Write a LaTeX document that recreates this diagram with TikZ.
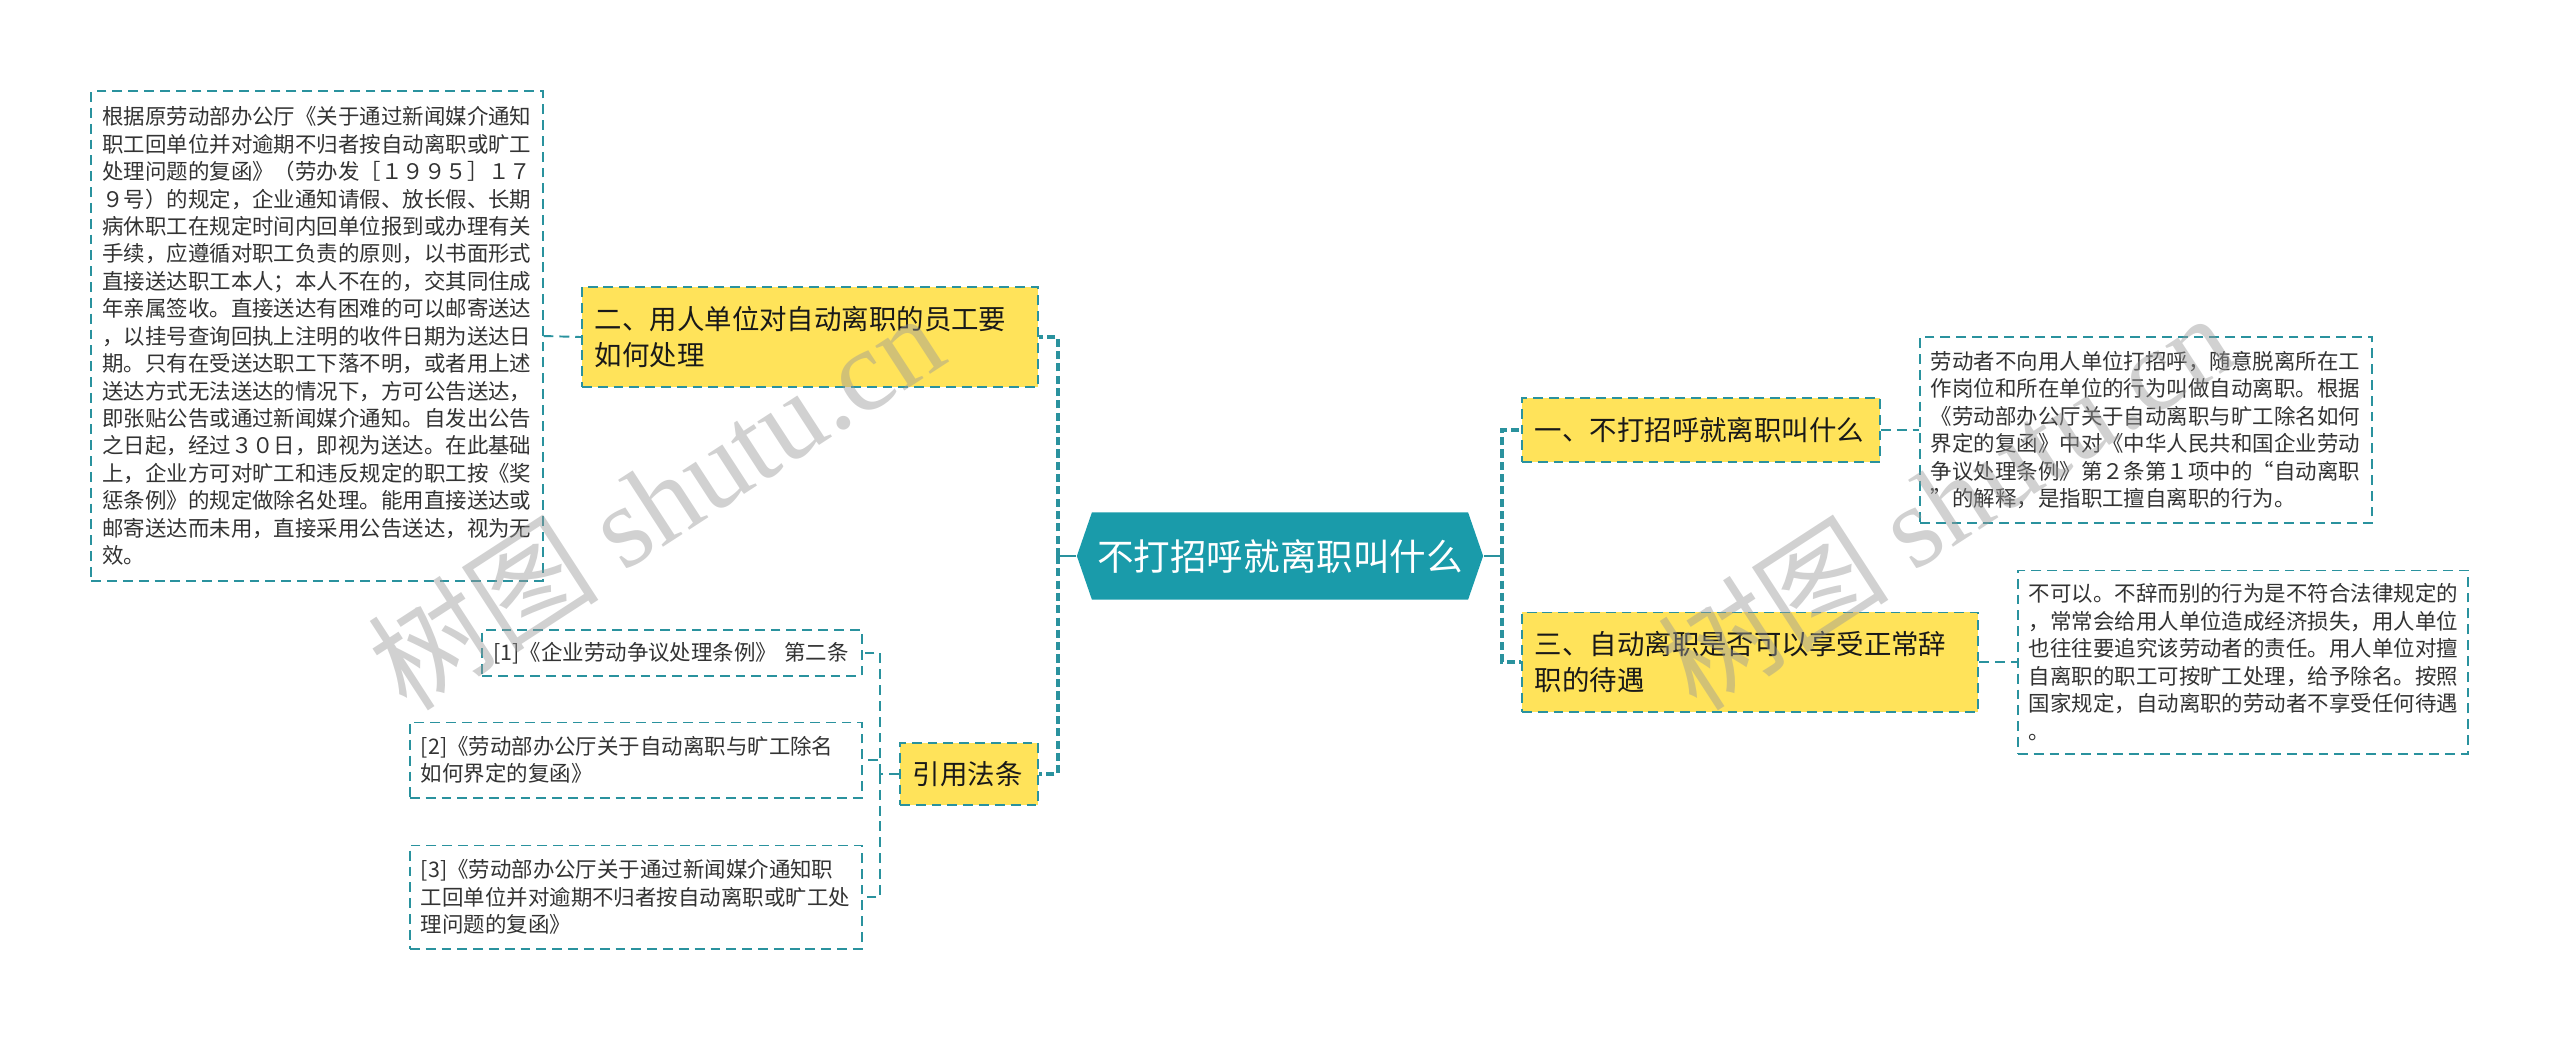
\documentclass[tikz,border=0pt]{standalone}
\usepackage{fontspec}
\setmainfont{Noto Sans CJK SC}
\newfontfamily\wmfont{Liberation Serif}
\usetikzlibrary{shapes.symbols}
\definecolor{hubteal}{HTML}{1A9BAA}
\definecolor{linkteal}{HTML}{2A929E}
\definecolor{topicyellow}{HTML}{FFE35A}
\definecolor{leafgray}{HTML}{333333}

\begin{document}
\begin{tikzpicture}[x=0.01cm,y=-0.01cm,
  hub/.style={signal,signal to=west and east,signal pointer angle=142,fill=hubteal,text=white,inner sep=0pt,
    minimum width=4.06cm,minimum height=0.87cm,font=\fontsize{10.4pt}{13pt}\selectfont},
  topic/.style={draw=linkteal,fill=topicyellow,line width=0.55pt,dash pattern=on 2.8pt off 1.7pt,
    inner xsep=0.13cm,inner ysep=0pt,align=left,text=black!90,font=\fontsize{7.8pt}{10pt}\selectfont},
  leaf/.style={draw=linkteal,fill=white,line width=0.55pt,dash pattern=on 2.8pt off 1.7pt,
    inner xsep=0.11cm,inner ysep=0pt,align=left,text=leafgray,font=\fontsize{6.1pt}{7.8pt}\selectfont},
  trunk/.style={linkteal,line width=1pt,dash pattern=on 2.3pt off 1.2pt},
  twig/.style={linkteal,line width=0.55pt,dash pattern=on 2.8pt off 1.7pt},
  watermark/.style={rotate=33,text=black!40,opacity=0.45,font=\fontsize{33pt}{33pt}\selectfont}]
  \useasboundingbox (0,0) rectangle (2560,1041);
  \node[hub] (hub) at (1280,556) {不打招呼就离职叫什么};

  \node[topic,text width=4.30cm,minimum height=1.00cm] (b2) at (810,337) {二、用人单位对自动离职的员工要\\如何处理};
  \node[topic,text width=1.12cm,minimum height=0.62cm] (b4) at (969,774) {引用法条};
  \node[topic,text width=3.32cm,minimum height=0.64cm] (b1) at (1701,430) {一、不打招呼就离职叫什么};
  \node[topic,text width=4.30cm,minimum height=0.99cm] (b3) at (1750,662) {三、自动离职是否可以享受正常辞\\职的待遇};

  \node[leaf,text width=4.29cm,minimum height=4.89cm] (d2) at (317,336) {根据原劳动部办公厅《关于通过新闻媒介通知\\职工回单位并对逾期不归者按自动离职或旷工\\处理问题的复函》（劳办发［１９９５］１７\\９号）的规定，企业通知请假、放长假、长期\\病休职工在规定时间内回单位报到或办理有关\\手续，应遵循对职工负责的原则，以书面形式\\直接送达职工本人；本人不在的，交其同住成\\年亲属签收。直接送达有困难的可以邮寄送达\\，以挂号查询回执上注明的收件日期为送达日\\期。只有在受送达职工下落不明，或者用上述\\送达方式无法送达的情况下，方可公告送达，\\即张贴公告或通过新闻媒介通知。自发出公告\\之日起，经过３０日，即视为送达。在此基础\\上，企业方可对旷工和违反规定的职工按《奖\\惩条例》的规定做除名处理。能用直接送达或\\邮寄送达而未用，直接采用公告送达，视为无\\效。};
  \node[leaf,text width=4.30cm,minimum height=1.86cm] (d1) at (2146,430) {劳动者不向用人单位打招呼，随意脱离所在工\\作岗位和所在单位的行为叫做自动离职。根据\\《劳动部办公厅关于自动离职与旷工除名如何\\界定的复函》中对《中华人民共和国企业劳动\\争议处理条例》第２条第１项中的“自动离职\\”的解释，是指职工擅自离职的行为。};
  \node[leaf,text width=4.28cm,minimum height=1.83cm] (d3) at (2243,662) {不可以。不辞而别的行为是不符合法律规定的\\，常常会给用人单位造成经济损失，用人单位\\也往往要追究该劳动者的责任。用人单位对擅\\自离职的职工可按旷工处理，给予除名。按照\\国家规定，自动离职的劳动者不享受任何待遇\\。};

  \node[leaf,text width=3.57cm,minimum height=0.46cm] (r1) at (672,653) {[1]《企业劳动争议处理条例》 第二条};
  \node[leaf,text width=4.30cm,minimum height=0.75cm] (r2) at (636,760) {[2]《劳动部办公厅关于自动离职与旷工除名\\如何界定的复函》};
  \node[leaf,text width=4.30cm,minimum height=1.03cm] (r3) at (636,897) {[3]《劳动部办公厅关于通过新闻媒介通知职\\工回单位并对逾期不归者按自动离职或旷工处\\理问题的复函》};

  \coordinate (lj) at (1058,556);
  \coordinate (rj) at (1502,556);
  \coordinate (fj) at (880,774);
  \draw[linkteal,line width=0.8pt] (hub.west) -- (lj);
  \draw[linkteal,line width=0.8pt] (hub.east) -- (rj);
  \draw[trunk] (lj) |- (b2.east);
  \draw[trunk] (lj) |- (b4.east);
  \draw[trunk] (rj) |- (b1.west);
  \draw[trunk] (rj) |- (b3.west);
  \draw[twig] (d2.east) -- (b2.west);
  \draw[twig] (b1.east) -- (d1.west);
  \draw[twig] (b3.east) -- (d3.west);
  \draw[twig] (b4.west) -- (fj);
  \draw[twig] (fj) |- (r1.east);
  \draw[twig] (fj) |- (r2.east);
  \draw[twig] (fj) |- (r3.east);

  \node[watermark] (wm1) at (655,500) {树图 {\wmfont shutu.cn}};
  \node[watermark] (wm2) at (1945,500) {树图 {\wmfont shutu.cn}};
\end{tikzpicture}
\end{document}
